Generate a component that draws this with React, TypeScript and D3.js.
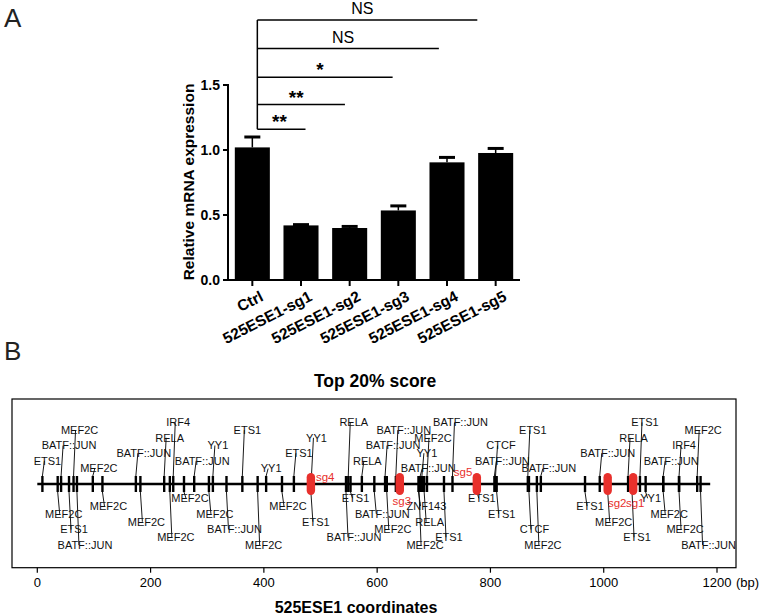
import React from 'react';
import * as d3 from 'd3';

// ---------- Panel A data ----------
const categories = ['Ctrl', '525ESE1-sg1', '525ESE1-sg2', '525ESE1-sg3', '525ESE1-sg4', '525ESE1-sg5'];
const means = [1.02, 0.42, 0.4, 0.535, 0.905, 0.977];
const errors = [0.08, 0.006, 0.012, 0.035, 0.038, 0.035];
const yTicks = [0, 0.5, 1.0, 1.5];
const compTargets = ['525ESE1-sg1', '525ESE1-sg2', '525ESE1-sg3', '525ESE1-sg4', '525ESE1-sg5'];
const compLabels = ['**', '**', '*', 'NS', 'NS'];
const compLevels = [1.16, 1.35, 1.56, 1.78, 2.0];
const compReach = [0.99, 1.8, 2.78, 3.73, 4.52]; // bracket length in band steps

// ---------- Panel B data ----------
const regionLength = 1188;
const bpTicks = [0, 200, 400, 600, 800, 1000, 1200];
const motifNames = [
  'ETS1', 'MEF2C', 'BATF::JUN', 'ETS1', 'MEF2C', 'BATF::JUN', 'MEF2C', 'MEF2C', 'BATF::JUN', 'MEF2C',
  'RELA', 'MEF2C', 'IRF4', 'MEF2C', 'BATF::JUN', 'MEF2C', 'YY1', 'BATF::JUN', 'ETS1', 'MEF2C',
  'YY1', 'MEF2C', 'ETS1', 'ETS1', 'YY1', 'BATF::JUN', 'RELA', 'ETS1', 'RELA', 'BATF::JUN',
  'BATF::JUN', 'MEF2C', 'BATF::JUN', 'MEF2C', 'BATF::JUN', 'ZNF143', 'YY1', 'RELA', 'MEF2C', 'ETS1',
  'BATF::JUN', 'ETS1', 'BATF::JUN', 'ETS1', 'CTCF', 'CTCF', 'ETS1', 'MEF2C', 'BATF::JUN', 'ETS1',
  'BATF::JUN', 'MEF2C', 'RELA', 'ETS1', 'ETS1', 'YY1', 'BATF::JUN', 'MEF2C', 'IRF4', 'MEF2C',
  'MEF2C', 'BATF::JUN',
];
const motifPositions = [
  9, 36, 42, 56, 64, 70, 98, 115, 174, 182,
  224, 234, 240, 259, 277, 303, 310, 334, 362, 389,
  404, 432, 453, 483, 484, 545, 549, 553, 573, 595,
  614, 617, 633, 674, 676, 673, 679, 683, 688, 718,
  733, 776, 807, 811, 809, 868, 866, 882, 889, 967,
  993, 1007, 1043, 1050, 1064, 1074, 1105, 1105, 1133, 1133,
  1165, 1171,
];
const sgNames = ['sg4', 'sg3', 'sg5', 'sg2', 'sg1'];
const sgPositions = [483, 640, 776, 1007, 1052];

// label layout helpers (styling only)
const labelShift: Record<string, number> = {
  'BATF::JUN': 8, MEF2C: 6, ETS1: 5, RELA: 5.5, YY1: 5, IRF4: 5, CTCF: 5.5, ZNF143: 8,
};
const sgLabelLayout: Record<string, { anchor: string; dx: number; dy: number }> = {
  sg4: { anchor: 'start', dx: 5, dy: -7 },
  sg3: { anchor: 'middle', dx: 2, dy: 17 },
  sg5: { anchor: 'end', dx: -4.5, dy: -12 },
  sg2: { anchor: 'middle', dx: 9.5, dy: 19 },
  sg1: { anchor: 'middle', dx: 2, dy: 19 },
};

const FONT = '"Liberation Sans", Arial, Helvetica, sans-serif';
const RED = '#e8302c';

export default function App() {
  // ----- Panel A scales -----
  const x = d3.scaleBand<string>().domain(categories).range([228, 520]).paddingInner(0.28).paddingOuter(0.14);
  const y = d3.scaleLinear().domain([0, 1.5]).range([280, 85]);
  const bw = x.bandwidth();
  const step = x.step();
  const cx = (c: string) => (x(c) as number) + bw / 2;
  const axisX = x.range()[0];
  const axisY = y(0);
  const bracketX0 = cx(categories[0]) + 5;

  // ----- Panel B scales -----
  const xb = d3.scaleLinear().domain([0, 1200]).range([37.3, 717]);
  const lineY = 484;
  const tickHalf = 8;
  const upY = (r: number) => lineY - 7.7 * (r + 1);
  const downY = (r: number) => lineY + 6.5 + 7.8 * r;
  const boxX0 = 12, boxX1 = 736, boxY0 = 399, boxY1 = 567.7;

  const motifs = motifNames.map((name, i) => {
    const idx = i + 1;
    const up = idx % 2 === 1;
    const row = (idx % 7) + 1;
    const tx = xb(motifPositions[i]);
    const ly = up ? upY(row) : downY(row);
    const lx = tx + (labelShift[name] ?? 6);
    return { name, up, tx, ly, lx };
  });

  return (
    <svg
      width={760}
      height={616}
      style={{ position: 'absolute', left: 0, top: 0, background: '#fff' }}
      fontFamily={FONT}
    >
      <rect x={0} y={0} width={760} height={616} fill="#fff" />
      {/* ================= Panel A ================= */}
      <text x={4} y={27} fontSize={26} fill="#222">A</text>

      {/* bars */}
      {categories.map((c, i) => (
        <rect key={c} x={x(c)} y={y(means[i])} width={bw} height={y(0) - y(means[i])} fill="#000" />
      ))}
      {/* error bars */}
      {categories.map((c, i) => (
        <g key={'e' + c}>
          <line x1={cx(c)} x2={cx(c)} y1={y(means[i])} y2={y(means[i] + errors[i])} stroke="#000" strokeWidth={1.5} />
          <line x1={cx(c) - 8} x2={cx(c) + 8} y1={y(means[i] + errors[i])} y2={y(means[i] + errors[i])} stroke="#000" strokeWidth={3} />
        </g>
      ))}

      {/* y axis */}
      <line x1={axisX} x2={axisX} y1={y(0) + 1} y2={y(1.5) - 1} stroke="#000" strokeWidth={2} />
      {yTicks.map((t) => (
        <g key={t}>
          <line x1={axisX - 5} x2={axisX} y1={y(t)} y2={y(t)} stroke="#000" strokeWidth={2} />
          <text x={axisX - 8} y={y(t) + 5} fontSize={14} fontWeight="bold" textAnchor="end">{d3.format('.1f')(t)}</text>
        </g>
      ))}
      <text
        transform={`translate(193.5, 182) rotate(-90)`}
        fontSize={15.5}
        fontWeight="bold"
        textAnchor="middle"
      >Relative mRNA expression</text>

      {/* x axis */}
      <line x1={axisX - 1} x2={x.range()[1]} y1={axisY} y2={axisY} stroke="#000" strokeWidth={2} />
      {categories.map((c) => (
        <g key={'xt' + c}>
          <line x1={cx(c)} x2={cx(c)} y1={axisY} y2={axisY + 6} stroke="#000" strokeWidth={2} />
          <text
            transform={`translate(${cx(c) + 7}, ${axisY + 10}) rotate(-27)`}
            fontSize={15.5}
            fontWeight="bold"
            textAnchor="end"
            dy="0.72em"
          >{c}</text>
        </g>
      ))}

      {/* significance brackets */}
      <line x1={bracketX0} x2={bracketX0} y1={y(compLevels[0])} y2={y(compLevels[compLevels.length - 1])} stroke="#000" strokeWidth={1.5} />
      {compTargets.map((t, i) => {
        const yy = y(compLevels[i]);
        const x2 = bracketX0 + compReach[i] * step;
        const mid = (bracketX0 + x2) / 2 - (i === 0 ? 2 : 5);
        const isNS = compLabels[i] === 'NS';
        return (
          <g key={'br' + t}>
            <line x1={bracketX0} x2={x2} y1={yy} y2={yy} stroke="#000" strokeWidth={1.5} />
            <text
              x={mid}
              y={isNS ? yy - 6 : yy - 1}
              fontSize={isNS ? 16 : 19}
              fontWeight={isNS ? 'normal' : 'bold'}
              textAnchor="middle"
            >{compLabels[i]}</text>
          </g>
        );
      })}

      {/* ================= Panel B ================= */}
      <text x={4} y={360} fontSize={26} fill="#222">B</text>
      <text x={375} y={387} fontSize={17.5} fontWeight="bold" textAnchor="middle">Top 20% score</text>

      <rect x={boxX0} y={boxY0} width={boxX1 - boxX0} height={boxY1 - boxY0} fill="none" stroke="#000" strokeWidth={1.2} />

      {/* axis ticks */}
      {bpTicks.map((t) => (
        <g key={'bt' + t}>
          <line x1={xb(t)} x2={xb(t)} y1={boxY1} y2={boxY1 + 5} stroke="#000" strokeWidth={1.2} />
          <text x={xb(t)} y={boxY1 + 19} fontSize={13} textAnchor="middle">{t}</text>
        </g>
      ))}
      <text x={xb(1200) + 19} y={boxY1 + 19} fontSize={13} textAnchor="start">(bp)</text>
      <text x={356} y={613} fontSize={16} fontWeight="bold" textAnchor="middle">525ESE1 coordinates</text>

      {/* leaders */}
      {motifs.map((m, i) => (
        <line
          key={'ld' + i}
          x1={m.tx}
          y1={m.up ? lineY - tickHalf : lineY + tickHalf}
          x2={m.tx + 2}
          y2={m.ly}
          stroke="#000"
          strokeWidth={0.9}
        />
      ))}

      {/* main line */}
      <line x1={xb(0)} x2={xb(regionLength)} y1={lineY} y2={lineY} stroke="#000" strokeWidth={2.5} />

      {/* motif ticks */}
      {motifs.map((m, i) => (
        <line key={'tk' + i} x1={m.tx} x2={m.tx} y1={lineY - tickHalf} y2={lineY + tickHalf} stroke="#000" strokeWidth={2.4} />
      ))}

      {/* motif labels */}
      {motifs.map((m, i) => (
        <text key={'lb' + i} x={m.lx} y={m.ly + 3.8} fontSize={11} textAnchor="middle" fill="#111">{m.name}</text>
      ))}

      {/* sgRNAs */}
      {sgNames.map((s, i) => {
        const sx = xb(sgPositions[i]);
        const lay = sgLabelLayout[s];
        return (
          <g key={s}>
            <rect x={sx - 4.2} y={lineY - 11} width={8.4} height={22} rx={4.2} fill={RED} />
            <text x={sx + lay.dx} y={lineY + lay.dy + 4} fontSize={11.5} fill={RED} textAnchor={lay.anchor as any}>{s}</text>
          </g>
        );
      })}
    </svg>
  );
}
